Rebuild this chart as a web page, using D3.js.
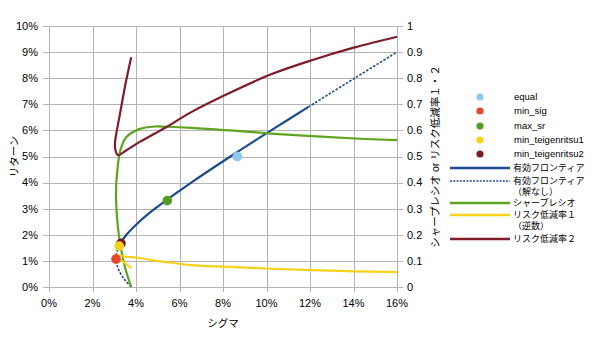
<!DOCTYPE html>
<html>
<head>
<meta charset="utf-8">
<script src="https://cdn.jsdelivr.net/npm/d3@7"></script>
<style>
  html, body { margin: 0; padding: 0; background: #fff; }
  svg { display: block; font-family: "Liberation Sans", Arial, "Noto Sans CJK JP", sans-serif; }
</style>
</head>
<body>
<svg id="chart" width="600" height="337"></svg>
<script>
// ---- data (sigma and return in %) ----
const xTicks = [0, 2, 4, 6, 8, 10, 12, 14, 16];
const yTicksLeft = [0, 1, 2, 3, 4, 5, 6, 7, 8, 9, 10];
const yTicksRight = [0, 0.1, 0.2, 0.3, 0.4, 0.5, 0.6, 0.7, 0.8, 0.9, 1];

// efficient frontier, lower (no solution) branch
const frontierLowSigma  = [3.78, 3.51, 3.30, 3.16, 3.08, 3.14, 3.30];
const frontierLowReturn = [0, 0.25, 0.5, 0.75, 1.1, 1.4, 1.7];
// efficient frontier, solved part
const frontierSigma  = [3.30, 3.56, 4.15, 4.87, 5.40, 6.54, 8.34, 10.21, 11.93];
const frontierReturn = [1.7, 2.0, 2.5, 3.0, 3.33, 4.0, 5.0, 6.0, 6.9];
// efficient frontier, upper (no solution) branch
const frontierHighSigma  = [11.93, 14.05, 16.0];
const frontierHighReturn = [6.9, 8.0, 9.0];

// Sharpe ratio and risk reduction 1 (inverse) along the frontier
const curveSigma = [3.78, 3.51, 3.30, 3.16, 3.08, 3.14, 3.30, 3.56, 4.15, 4.87, 5.40, 6.54, 8.34, 10.21, 12.12, 14.05, 16.0];
const sharpeRatio = [0, 0.071, 0.152, 0.237, 0.357, 0.446, 0.53, 0.575, 0.605, 0.615, 0.614, 0.61, 0.600, 0.588, 0.578, 0.569, 0.5625];
const riskReduction1 = [0.072, 0.090, 0.104, 0.114, 0.120, 0.121, 0.119, 0.116, 0.111, 0.101, 0.095, 0.084, 0.077, 0.070, 0.065, 0.060, 0.057];

// risk reduction 2
const rr2Sigma = [3.78, 3.51, 3.30, 3.12, 3.05, 3.03, 3.07, 3.17, 3.56, 4.15, 4.87, 5.40, 6.54, 8.34, 10.21, 12.12, 14.05, 16.0];
const riskReduction2 = [0.88, 0.775, 0.68, 0.60, 0.565, 0.54, 0.52, 0.505, 0.524, 0.555, 0.588, 0.613, 0.67, 0.745, 0.815, 0.87, 0.918, 0.959];

// portfolios
const pointNames  = ["equal", "min_sig", "max_sr", "min_teigenritsu1", "min_teigenritsu2"];
const pointSigma  = [8.66, 3.08, 5.44, 3.23, 3.31];
const pointReturn = [5.0, 1.07, 3.31, 1.57, 1.67];
const pointColors = ["#8ec9f4", "#e8462c", "#559c23", "#f6d21c", "#7d1a24"];
const pointDrawOrder = [0, 2, 4, 3, 1];

const lineNames = ["有効フロンティア", "有効フロンティア\n（解なし）", "シャープレシオ", "リスク低減率１\n（逆数）", "リスク低減率２"];
const lineColors = ["#1c4b8d", "#1c4b8d", "#5ea41f", "#f7d11a", "#7e1c29"];

// ---- layout ----
const svg = d3.select("#chart");
const plotLeft = 49, plotRight = 397, plotTop = 26, plotBottom = 287;

const x = d3.scaleLinear().domain([0, 16]).range([plotLeft, plotRight]);
const yL = d3.scaleLinear().domain([0, 10]).range([plotBottom, plotTop]);
const yR = d3.scaleLinear().domain([0, 1]).range([plotBottom, plotTop]);

const grid = "#b3b3b3";

// grid lines
svg.append("g").selectAll("line").data(xTicks).join("line")
  .attr("x1", d => Math.round(x(d)) + 0.5).attr("x2", d => Math.round(x(d)) + 0.5)
  .attr("y1", plotTop).attr("y2", plotBottom + 5)
  .attr("stroke", grid).attr("stroke-width", 1);
svg.append("g").selectAll("line").data(yTicksLeft).join("line")
  .attr("x1", plotLeft - 6).attr("x2", plotRight + 6)
  .attr("y1", d => Math.round(yL(d)) + 0.5).attr("y2", d => Math.round(yL(d)) + 0.5)
  .attr("stroke", grid).attr("stroke-width", 1);

// tick labels
const tickFont = 11;
svg.append("g").selectAll("text").data(yTicksLeft).join("text")
  .attr("x", plotLeft - 11).attr("y", d => yL(d)).attr("dy", "0.35em")
  .attr("text-anchor", "end").attr("font-size", tickFont).attr("fill", "#000")
  .text(d => d + "%");
svg.append("g").selectAll("text").data(xTicks).join("text")
  .attr("x", d => x(d)).attr("y", plotBottom + 16).attr("dy", "0.35em")
  .attr("text-anchor", "middle").attr("font-size", tickFont).attr("fill", "#000")
  .text(d => d + "%");
svg.append("g").selectAll("text").data(yTicksRight).join("text")
  .attr("x", plotRight + 10).attr("y", d => yR(d)).attr("dy", "0.35em")
  .attr("text-anchor", "start").attr("font-size", tickFont).attr("fill", "#000")
  .text(d => d3.format("~g")(d));

// axis titles
svg.append("text").attr("x", (plotLeft + plotRight) / 2).attr("y", 323).attr("dy", "0.35em")
  .attr("text-anchor", "middle").attr("font-size", 10.5).text("シグマ");
svg.append("text").attr("transform", `translate(14,${(plotTop + plotBottom) / 2}) rotate(-90)`)
  .attr("dy", "0.35em").attr("text-anchor", "middle").attr("font-size", 10.5).text("リターン");
svg.append("text").attr("transform", `translate(435,${(plotTop + plotBottom) / 2}) rotate(-90)`)
  .attr("dy", "0.35em").attr("text-anchor", "middle").attr("font-size", 10.5)
  .text("シャープレシオ or リスク低減率１・２");

// ---- curves ----
const line = (xs, ys, yScale) => d3.line().curve(d3.curveCatmullRom.alpha(0.5))
  (xs.map((v, i) => [x(v), yScale(ys[i])]));

const plot = svg.append("g");
plot.append("path").attr("d", line(frontierLowSigma, frontierLowReturn, yL))
  .attr("fill", "none").attr("stroke", lineColors[1]).attr("stroke-width", 1.6).attr("stroke-dasharray", "2.5,1.5");
plot.append("path").attr("d", line(frontierHighSigma, frontierHighReturn, yL))
  .attr("fill", "none").attr("stroke", lineColors[1]).attr("stroke-width", 1.6).attr("stroke-dasharray", "2.5,1.5");
plot.append("path").attr("d", line(frontierSigma, frontierReturn, yL))
  .attr("fill", "none").attr("stroke", lineColors[0]).attr("stroke-width", 2.2);
plot.append("path").attr("d", line(curveSigma, sharpeRatio, yR))
  .attr("fill", "none").attr("stroke", lineColors[2]).attr("stroke-width", 2.2);
plot.append("path").attr("d", line(curveSigma, riskReduction1, yR))
  .attr("fill", "none").attr("stroke", lineColors[3]).attr("stroke-width", 2.2);
plot.append("path").attr("d", line(rr2Sigma, riskReduction2, yR))
  .attr("fill", "none").attr("stroke", lineColors[4]).attr("stroke-width", 2.2);

// portfolio markers
plot.selectAll("circle").data(pointDrawOrder).join("circle")
  .attr("cx", i => x(pointSigma[i])).attr("cy", i => yL(pointReturn[i]))
  .attr("r", 4.8).attr("fill", i => pointColors[i]);

// ---- legend ----
const legend = svg.append("g").attr("fill", "#000");
const pointRowY = [97, 111, 126, 140, 154];
pointNames.forEach((name, i) => {
  legend.append("circle").attr("cx", 480).attr("cy", pointRowY[i]).attr("r", 3.6).attr("fill", pointColors[i]);
  legend.append("text").attr("x", 514).attr("y", pointRowY[i]).attr("dy", "0.35em")
    .attr("font-size", 9.5).text(name);
});
const lineRowY = [168, 181, 203, 215, 239];
lineNames.forEach((name, i) => {
  const l = legend.append("line").attr("x1", 450).attr("x2", 510)
    .attr("y1", lineRowY[i]).attr("y2", lineRowY[i]).attr("stroke", lineColors[i]);
  if (i === 1) l.attr("stroke-width", 1.3).attr("stroke-dasharray", "2,1.3");
  else l.attr("stroke-width", 2.4);
  name.split("\n").forEach((part, j) => {
    legend.append("text").attr("x", 513).attr("y", lineRowY[i] + j * 10.5).attr("dy", "0.35em")
      .attr("font-size", 9).text(part);
  });
});
</script>
</body>
</html>
